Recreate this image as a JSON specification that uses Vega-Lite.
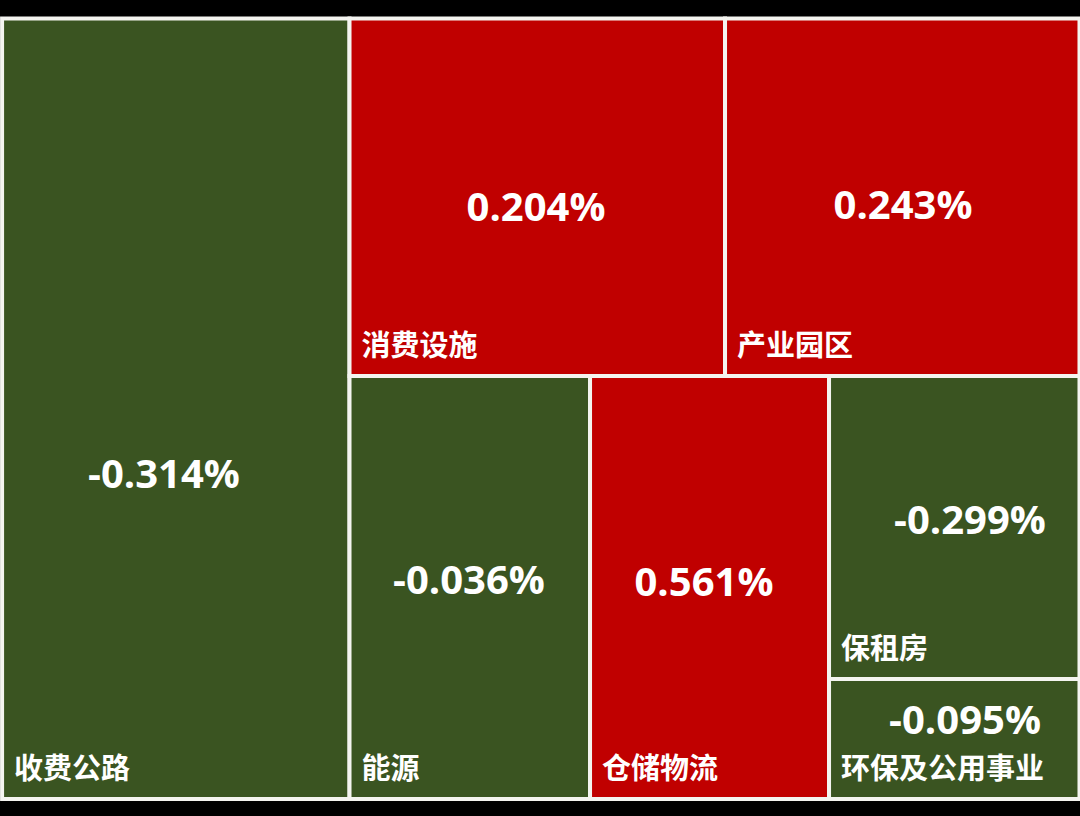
{
  "$schema": "https://vega.github.io/schema/vega-lite/v6.json",
  "width": 1080,
  "height": 782,
  "padding": {"top": 16, "bottom": 18, "left": 0, "right": 0},
  "background": "#000000",
  "config": {"view": {"fill": "#ffffff", "stroke": null}},
  "data": {
    "values": [
      {"name": "收费公路", "chg": -0.314, "x0": 0.1, "x1": 32.27, "y0": 0.19, "y1": 100, "vx": 15.09, "vy": 58.7},
      {"name": "消费设施", "chg": 0.204, "x0": 32.27, "x1": 67.04, "y0": 0.19, "y1": 45.91, "vx": 49.54, "vy": 24.55},
      {"name": "产业园区", "chg": 0.243, "x0": 67.04, "x1": 99.86, "y0": 0.19, "y1": 45.91, "vx": 83.52, "vy": 24.3},
      {"name": "能源", "chg": -0.036, "x0": 32.27, "x1": 54.54, "y0": 45.91, "y1": 100, "vx": 43.33, "vy": 72.25},
      {"name": "仓储物流", "chg": 0.561, "x0": 54.54, "x1": 76.67, "y0": 45.91, "y1": 100, "vx": 65.09, "vy": 72.51},
      {"name": "保租房", "chg": -0.299, "x0": 76.67, "x1": 99.86, "y0": 45.91, "y1": 84.65, "vx": 89.72, "vy": 64.58},
      {"name": "环保及公用事业", "chg": -0.095, "x0": 76.67, "x1": 99.86, "y0": 84.65, "y1": 100, "vx": 89.26, "vy": 90.15}
    ]
  },
  "transform": [
    {"calculate": "replace(format(datum.chg, '.3f'), '\u2212', '-') + '%'", "as": "label"}
  ],
  "encoding": {
    "x": {"type": "quantitative", "scale": {"domain": [0, 100], "nice": false, "zero": false}, "axis": null},
    "y": {"type": "quantitative", "scale": {"domain": [0, 100], "nice": false, "zero": false, "reverse": true}, "axis": null}
  },
  "layer": [
    {
      "mark": {"type": "rect", "stroke": "#f4f4f0", "strokeWidth": 4},
      "encoding": {
        "x": {"field": "x0", "type": "quantitative"},
        "x2": {"field": "x1"},
        "y": {"field": "y0", "type": "quantitative"},
        "y2": {"field": "y1"},
        "color": {
          "field": "chg",
          "type": "quantitative",
          "scale": {"type": "threshold", "domain": [0], "range": ["#3A5421", "#C00000"]},
          "legend": null
        }
      }
    },
    {
      "mark": {"type": "text", "font": "Open Sans", "fontWeight": "bold", "fontSize": 40, "color": "#ffffff", "align": "center", "baseline": "middle"},
      "encoding": {
        "x": {"field": "vx", "type": "quantitative"},
        "y": {"field": "vy", "type": "quantitative"},
        "text": {"field": "label"}
      }
    },
    {
      "mark": {"type": "text", "font": "Noto Sans CJK SC", "fontWeight": "bold", "fontSize": 29, "color": "#ffffff", "align": "left", "baseline": "middle", "dx": 12, "dy": -29},
      "encoding": {
        "x": {"field": "x0", "type": "quantitative"},
        "y": {"field": "y1", "type": "quantitative"},
        "text": {"field": "name"}
      }
    }
  ]
}
